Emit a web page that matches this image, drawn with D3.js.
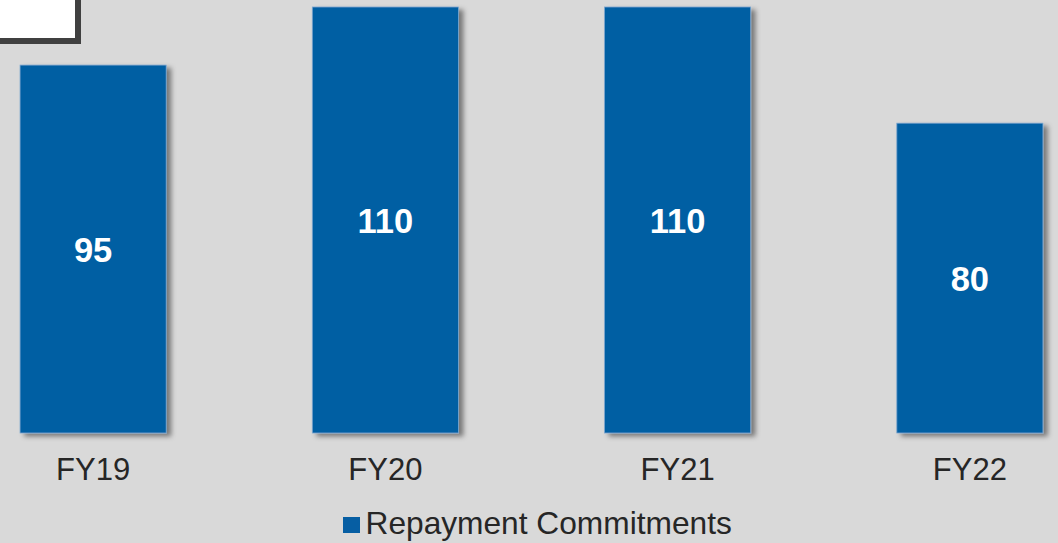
<!DOCTYPE html>
<html>
<head>
<meta charset="utf-8">
<script src="https://cdn.jsdelivr.net/npm/d3@7"></script>
<style>
html,body{margin:0;padding:0;background:#d9d9d9;}
svg{display:block;}
</style>
</head>
<body>
<svg id="chart" width="1058" height="543"></svg>
<script>
const categories = ["FY19", "FY20", "FY21", "FY22"];
const values = [95, 110, 110, 80];
const seriesName = "Repayment Commitments";

const W = 1058, H = 543;
const svg = d3.select("#chart");
svg.append("rect").attr("width", W).attr("height", H).attr("fill", "#d9d9d9");

const defs = svg.append("defs");
const f = defs.append("filter").attr("id", "shadow").attr("x", "-10%").attr("y", "-10%").attr("width", "130%").attr("height", "130%");
f.append("feDropShadow").attr("dx", 4.5).attr("dy", 3).attr("stdDeviation", 2.5)
  .attr("flood-color", "#000").attr("flood-opacity", 0.45);

const x = d3.scaleBand().domain(categories).range([-53, 1116]).paddingInner(0.5).paddingOuter(0.25);
const y = d3.scaleLinear().domain([0, 110]).range([433, 7]);

const blue = "#065ea3";

svg.append("g").selectAll("rect").data(values).join("rect")
  .attr("x", (d, i) => x(categories[i]))
  .attr("y", d => y(d))
  .attr("width", x.bandwidth())
  .attr("height", d => y(0) - y(d))
  .attr("fill", blue)
  .attr("stroke", "#7aa6cf")
  .attr("stroke-width", 0.8)
  .attr("filter", "url(#shadow)");

svg.append("g").selectAll("text").data(values).join("text")
  .attr("x", (d, i) => x(categories[i]) + x.bandwidth() / 2)
  .attr("y", d => (y(d) + y(0)) / 2 + 12.5)
  .attr("text-anchor", "middle")
  .attr("font-family", "Liberation Sans, Arial, sans-serif")
  .attr("font-weight", "bold")
  .attr("font-size", 34.5)
  .attr("fill", "#ffffff")
  .text(d => d);

// category axis labels
const xAxis = d3.axisBottom(x).tickSize(0).tickPadding(0);
const ax = svg.append("g").attr("transform", "translate(0,458)").call(xAxis);
ax.select(".domain").remove();
ax.selectAll("text")
  .attr("dy", "0.71em")
  .attr("font-family", "Liberation Sans, Arial, sans-serif")
  .attr("font-size", 31)
  .attr("fill", "#262626");

// legend
const lg = svg.append("g");
lg.append("rect").attr("x", 343).attr("y", 517).attr("width", 17).attr("height", 16).attr("fill", blue);
lg.append("text").attr("x", 365.5).attr("y", 534)
  .attr("font-family", "Liberation Sans, Arial, sans-serif")
  .attr("font-size", 31.7)
  .attr("fill", "#262626")
  .text(seriesName);

// partial box top-left
svg.append("rect").attr("x", -20).attr("y", -20).attr("width", 98).attr("height", 61)
  .attr("fill", "#ffffff").attr("stroke", "#404040").attr("stroke-width", 6);
</script>
</body>
</html>
